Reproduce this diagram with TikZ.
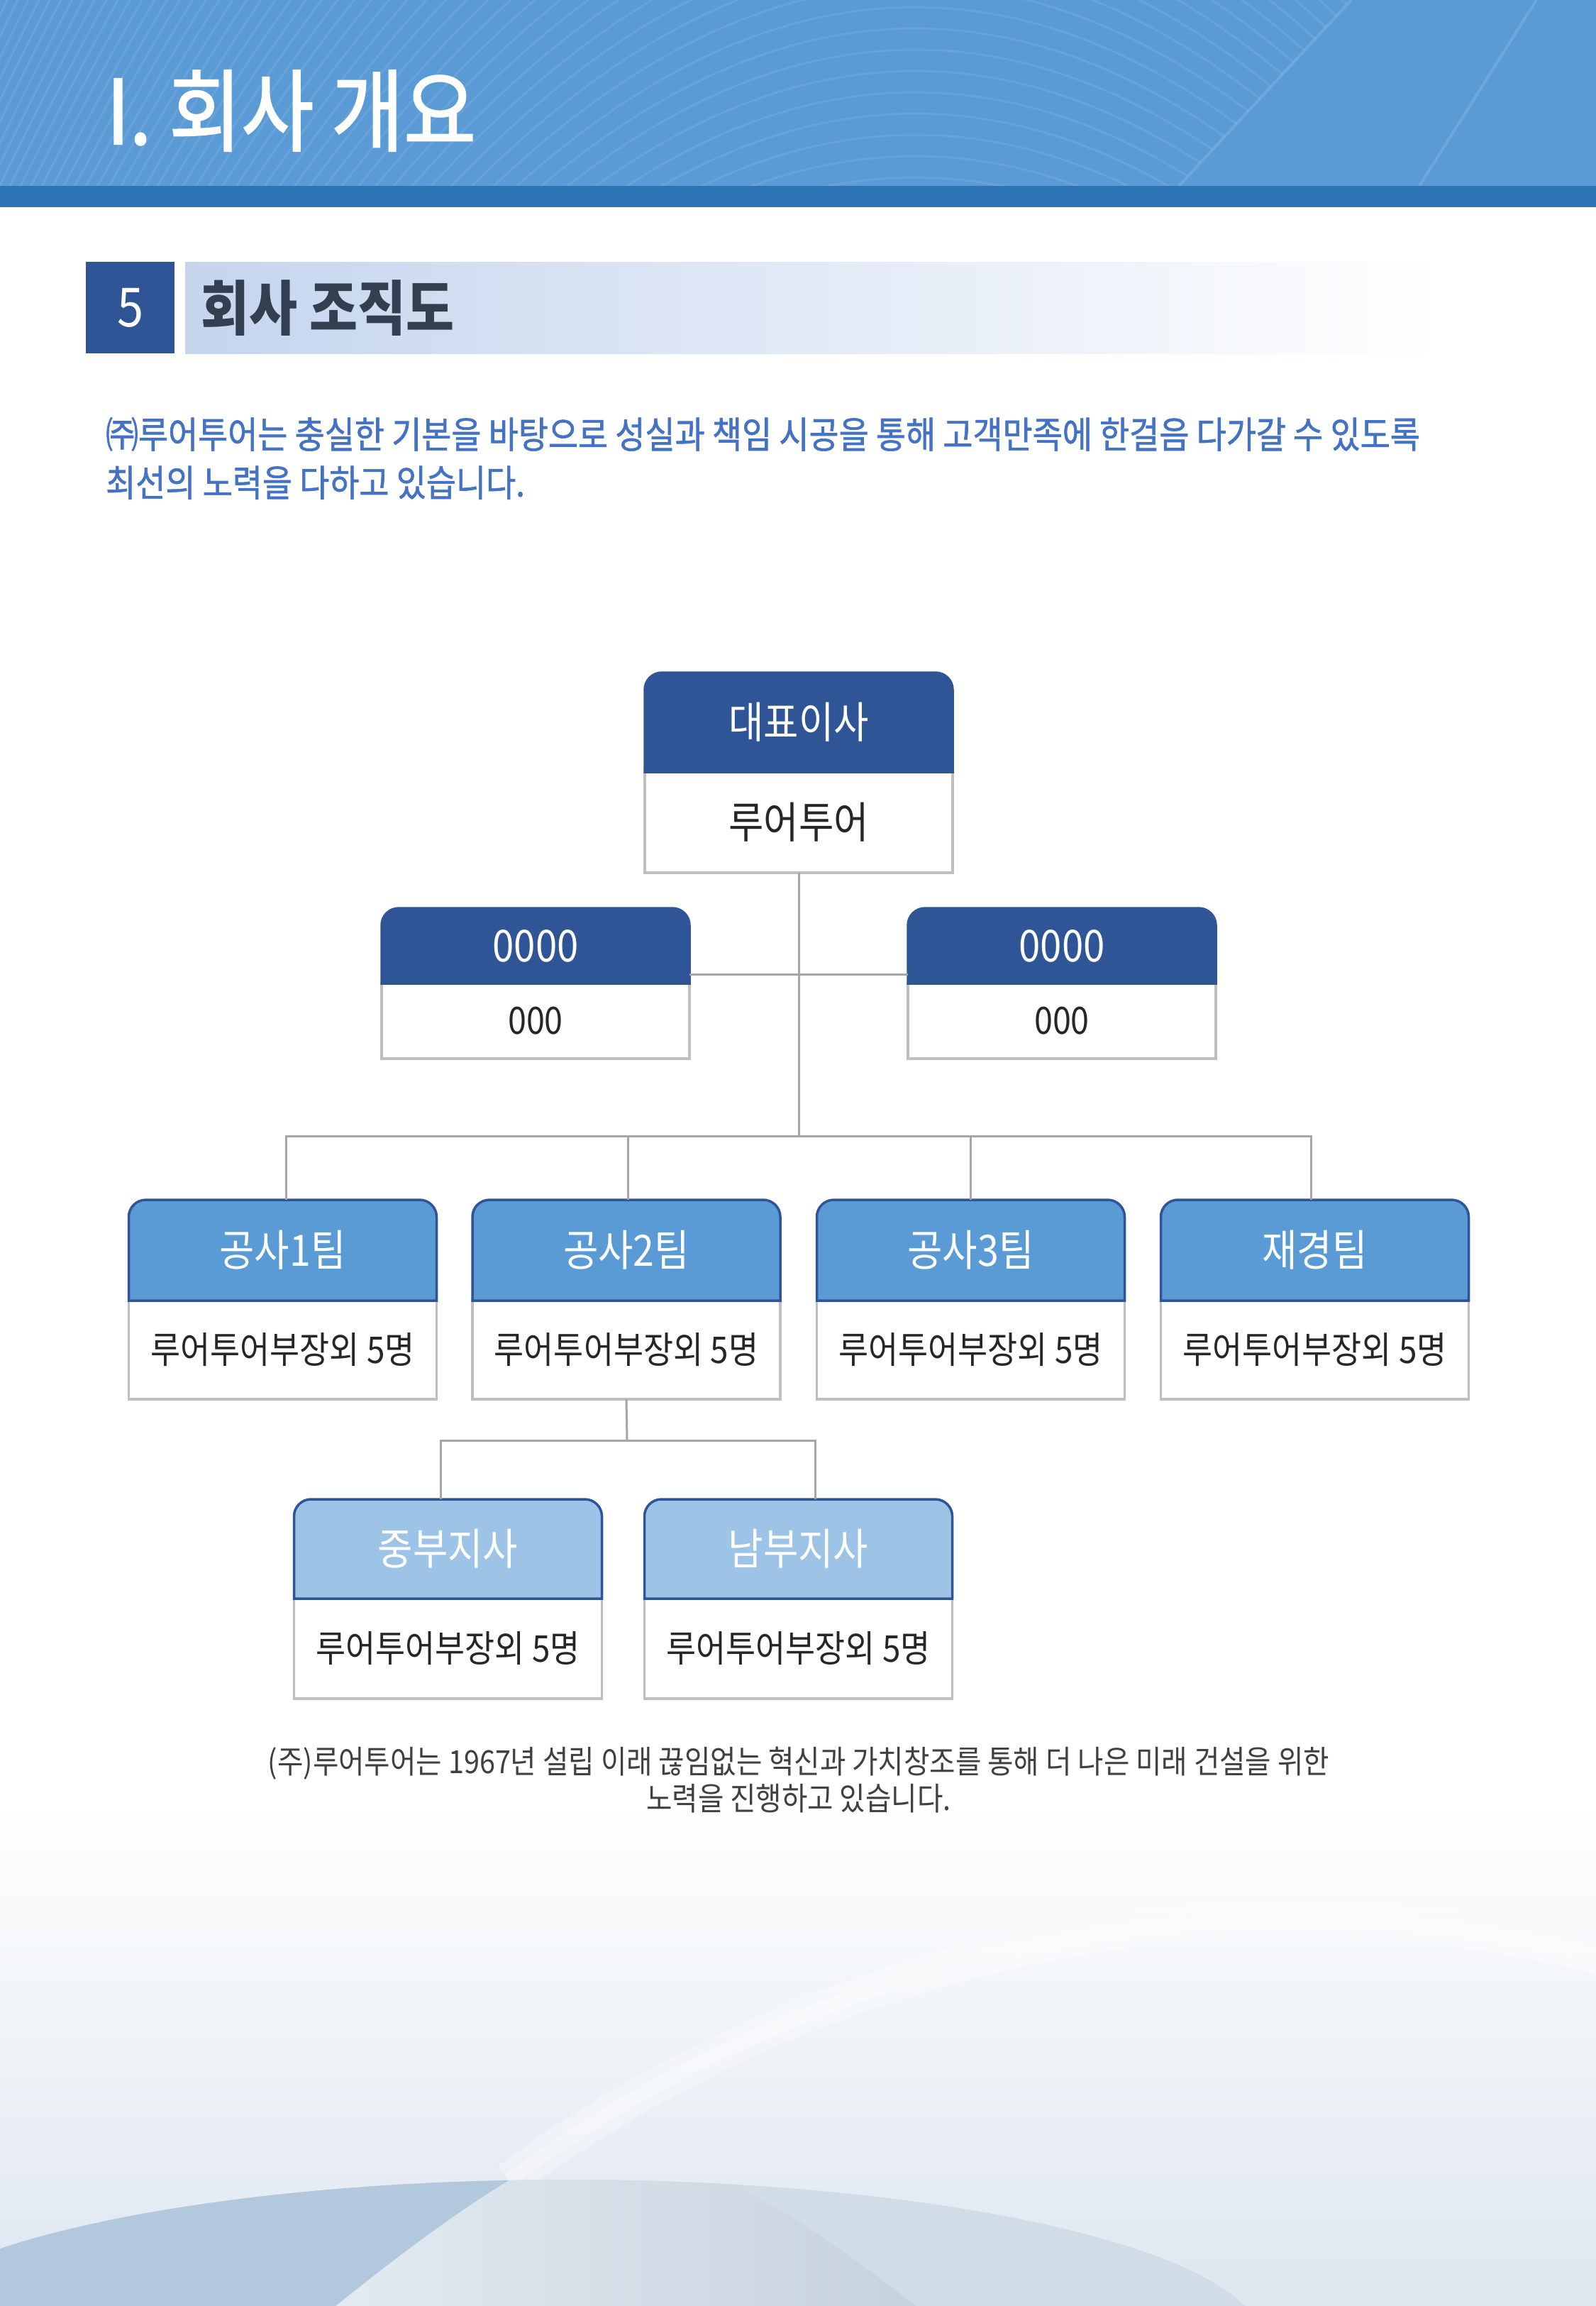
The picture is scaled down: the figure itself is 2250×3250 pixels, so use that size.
\documentclass[tikz,border=0pt]{standalone}
\usepackage{fontspec}
\newfontfamily\kr[FakeStretch=0.88]{Noto Sans CJK KR}
\newfontfamily\krm[FakeStretch=0.88,FakeBold=1.2]{Noto Sans CJK KR}
\newfontfamily\krt[FakeStretch=0.88,FakeBold=1.6]{Noto Sans CJK KR}
\definecolor{band}{HTML}{5B9BD5}
\definecolor{bandd}{HTML}{2E75B6}
\definecolor{dblue}{HTML}{2F5597}
\definecolor{mblue}{HTML}{5B9BD5}
\definecolor{lblue}{HTML}{9DC3E6}
\definecolor{secg}{HTML}{C5D5EE}
\definecolor{sectxt}{HTML}{333F4F}
\definecolor{introc}{HTML}{4472C4}
\definecolor{txt}{HTML}{262626}
\definecolor{footc}{HTML}{404040}
\definecolor{conng}{HTML}{A6A6A6}
\definecolor{bgray}{HTML}{BFBFBF}
\definecolor{bgb}{HTML}{DEE6EF}
\definecolor{domeL}{HTML}{B2C8DD}
\definecolor{domeM}{HTML}{DCE5EE}
\definecolor{domeR}{HTML}{D0DDE9}
\pgfdeclarelayer{back}
\pgfdeclarelayer{bg}
\pgfsetlayers{back,bg,main}
\tikzset{
  hdrtxt/.style={inner sep=0pt, outer sep=0pt, minimum width=434pt, text=white},
  bodtxt/.style={inner sep=0pt, outer sep=0pt, minimum width=434pt, text=txt},
  conn/.style={draw=conng, line width=3pt},
  bigt/.style={font=\kr\fontsize{61}{61}\selectfont},
  bodyt/.style={font=\kr\fontsize{52}{52}\selectfont},
}
\newcommand\boxshape[3]{%
  \begin{pgfonlayer}{bg}
  \path[fill=white, draw=bgray, line width=3.5pt] (#1b.south west) rectangle (#1b.north east);
  \path[fill=#2, draw=#3, line width=3.5pt] (#1h.south west) -- ([yshift=-24pt]#1h.north west)
    arc[start angle=180, end angle=90, radius=24pt] -- ([xshift=-24pt]#1h.north east)
    arc[start angle=90, end angle=0, radius=24pt] -- (#1h.south east) -- cycle;
  \end{pgfonlayer}}
\begin{document}
\begin{tikzpicture}[x=1pt,y=-1pt]
\useasboundingbox (0,0) rectangle (2250,3250);
\begin{pgfonlayer}{back}
  \fill[white] (0,0) rectangle (2250,3250);
  % header band
  \fill[band] (0,0) rectangle (2250,262);
  \begin{scope}
    \clip (0,0) -- (1905,0) -- (1662,262) -- (0,262) -- cycle;
    \foreach \k in {-1400,-1370,...,260} {
      \draw[white, opacity=0.08, line width=3pt] plot[domain=-14:7, samples=50, smooth] ({1290+100*\x}, {\k+8*\x*\x});
    }
  \end{scope}
  \draw[white, opacity=0.12, line width=4pt] (1662,262) -- (1905,0);
  \draw[white, opacity=0.12, line width=4pt] (2001,262) -- (2166,0);
  \fill[bandd] (0,262) rectangle (2250,292);
  % section bar
  \fill[dblue] (121,369) rectangle (246,498);
  \shade[left color=secg, right color=white] (261,369) rectangle (2030,498);
  % bottom background
  \fill[top color=white, bottom color=bgb] (0,2540) rectangle (2250,3250);
  \draw[white, opacity=0.3, line width=50pt] (717,3073) .. controls (950,2900) and (1300,2730) .. (1750,2705) .. controls (2000,2700) and (2150,2730) .. (2260,2760);
  \draw[white, opacity=0.3, line width=20pt] (717,3073) .. controls (950,2900) and (1300,2730) .. (1750,2705) .. controls (2000,2700) and (2150,2730) .. (2260,2760);
  \begin{scope}
    \clip (800,3302) ellipse [x radius=980, y radius=230];
    \fill[domeR] (0,2900) rectangle (2250,3250);
    \shade[left color=domeM!80!white, right color=domeR!95!black] (717,3073) .. controls (640,3120) and (560,3180) .. (473,3250) -- (1291,3250) .. controls (1200,3180) and (1120,3120) .. (1047,3088) -- (1047,2950) -- (717,2950) -- cycle;
    \fill[domeL] (0,2900) -- (717,2900) -- (717,3073) .. controls (640,3120) and (560,3180) .. (473,3250) -- (0,3250) -- cycle;
  \end{scope}
\end{pgfonlayer}

% title and section
\node[anchor=west, inner sep=0pt, text=white, font=\krt\fontsize{126}{126}\selectfont] (title) at (150,156) {I. 회사 개요};
\node[inner sep=0pt, text=white, font=\kr\fontsize{76}{76}\selectfont] (num) at (184,434) {5};
\node[anchor=west, inner sep=0pt, text=sectxt, font=\kr\bfseries\fontsize{84}{84}\selectfont] (sec) at (283,434) {회사 조직도};
\node[anchor=west, inner sep=0pt, align=left, text=introc, font=\krm\fontsize{52}{68}\selectfont] (intro) at (149,646)
  {㈜루어투어는 충실한 기본을 바탕으로 성실과 책임 시공을 통해 고객만족에 한걸음 다가갈 수 있도록\\최선의 노력을 다하고 있습니다.};

% CEO
\node[hdrtxt, bigt, minimum height=140pt] (ceoh) at (1126,1018) {대표이사};
\node[bodtxt, font=\kr\fontsize{61}{61}\selectfont, minimum height=142pt] (ceob) at (1126,1159) {루어투어};
\boxshape{ceo}{dblue}{dblue}
% 0000 boxes
\node[hdrtxt, font=\kr\fontsize{62}{62}\selectfont, minimum height=106pt] (l0h) at (755,1333) {0000};
\node[bodtxt, font=\kr\fontsize{53}{53}\selectfont, minimum height=106pt] (l0b) at (755,1439) {000};
\boxshape{l0}{dblue}{dblue}
\node[hdrtxt, font=\kr\fontsize{62}{62}\selectfont, minimum height=106pt] (r0h) at (1497,1333) {0000};
\node[bodtxt, font=\kr\fontsize{53}{53}\selectfont, minimum height=106pt] (r0b) at (1497,1439) {000};
\boxshape{r0}{dblue}{dblue}
% teams
\node[hdrtxt, bigt, minimum height=142pt] (t1h) at (398.5,1762) {공사1팀};
\node[bodtxt, bodyt, minimum height=139pt] (t1b) at (398.5,1902.5) {루어투어부장외 5명};
\boxshape{t1}{mblue}{dblue}
\node[hdrtxt, bigt, minimum height=142pt] (t2h) at (883,1762) {공사2팀};
\node[bodtxt, bodyt, minimum height=139pt] (t2b) at (883,1902.5) {루어투어부장외 5명};
\boxshape{t2}{mblue}{dblue}
\node[hdrtxt, bigt, minimum height=142pt] (t3h) at (1368.5,1762) {공사3팀};
\node[bodtxt, bodyt, minimum height=139pt] (t3b) at (1368.5,1902.5) {루어투어부장외 5명};
\boxshape{t3}{mblue}{dblue}
\node[hdrtxt, bigt, minimum height=142pt] (t4h) at (1853.5,1762) {재경팀};
\node[bodtxt, bodyt, minimum height=139pt] (t4b) at (1853.5,1902.5) {루어투어부장외 5명};
\boxshape{t4}{mblue}{dblue}
% branches
\node[hdrtxt, bigt, minimum height=140pt] (b1h) at (631.5,2183) {중부지사};
\node[bodtxt, bodyt, minimum height=141pt] (b1b) at (631.5,2323.5) {루어투어부장외 5명};
\boxshape{b1}{lblue}{dblue}
\node[hdrtxt, bigt, minimum height=140pt] (b2h) at (1125.5,2183) {남부지사};
\node[bodtxt, bodyt, minimum height=141pt] (b2b) at (1125.5,2323.5) {루어투어부장외 5명};
\boxshape{b2}{lblue}{dblue}

% connectors
\coordinate (bus) at (1126,1601);
\coordinate (sub) at (884,2030);
\draw[conn] (ceob.south) -- (bus);
\draw[conn] ([yshift=13pt]l0h.south east) -- ([yshift=13pt]r0h.south west);
\draw[conn] ([xshift=5pt]t1h.north) |- (bus) -| ([xshift=-5pt]t4h.north);
\draw[conn] (bus) -| ([xshift=2pt]t2h.north);
\draw[conn] (bus) -| (t3h.north);
\draw[conn] (t2b.south) -- (sub);
\draw[conn] ([xshift=-10pt]b1h.north) |- (sub) -| ([xshift=24pt]b2h.north);

% footer
\node[inner sep=0pt, align=center, text=footc, font=\kr\fontsize{45}{52}\selectfont] (foot) at (1126,2508)
  {(주)루어투어는 1967년 설립 이래 끊임없는 혁신과 가치창조를 통해 더 나은 미래 건설을 위한\\노력을 진행하고 있습니다.};
\end{tikzpicture}
\end{document}
